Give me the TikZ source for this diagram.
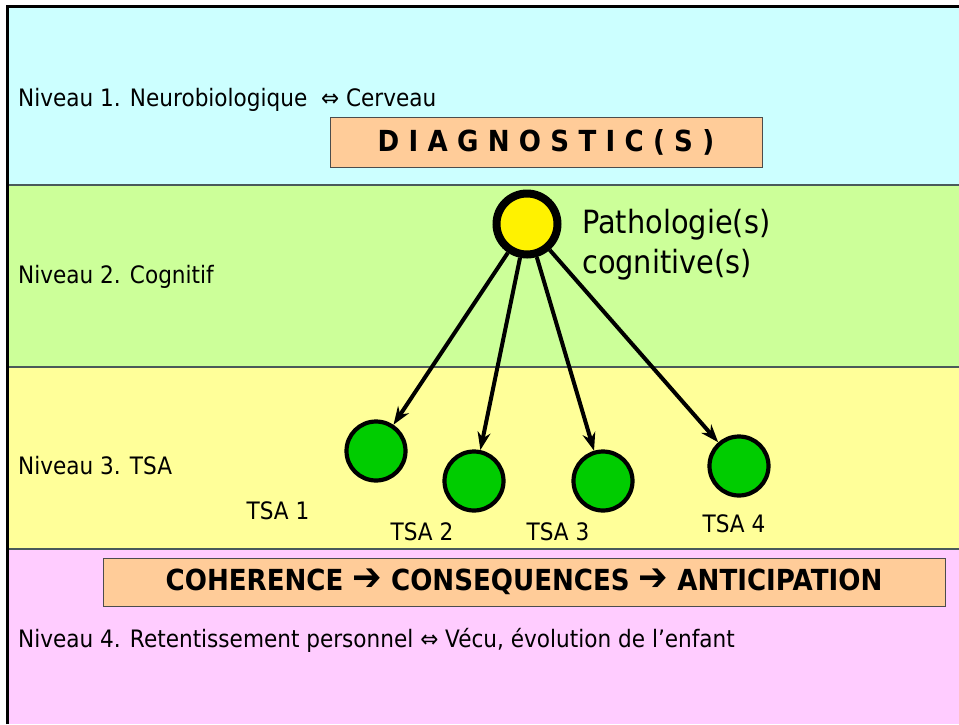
\documentclass[tikz,border=0pt]{standalone}
\usepackage{fontspec}
\setmainfont{DejaVu Sans}[FakeStretch=0.9]
\usetikzlibrary{arrows.meta}
\definecolor{bandA}{HTML}{CCFFFF}
\definecolor{bandB}{HTML}{CCFF99}
\definecolor{bandC}{HTML}{FFFF99}
\definecolor{bandD}{HTML}{FFCCFF}
\definecolor{boxfill}{HTML}{FFCC99}
\definecolor{greenc}{HTML}{00CC00}
\definecolor{sepline}{HTML}{4A5A5A}
\newcommand{\bigarrowglyph}{\raisebox{0.5pt}{\scalebox{1.35}{➔}}}
\tikzset{
  leveltxt/.style={anchor=west, inner sep=0pt, font=\fontsize{24}{28}\selectfont},
  bigbox/.style={draw=black!70, line width=0.8pt, fill=boxfill, inner sep=0pt},
  tsacirc/.style={circle, draw=black, line width=4.2pt, fill=greenc, minimum size=59pt, inner sep=0pt},
  tsalbl/.style={inner sep=0pt, font=\fontsize{24}{28}\selectfont},
  arr/.style={line width=4pt, -{Stealth[length=18pt,width=13pt]}},
}
\begin{document}
\begin{tikzpicture}[x=1pt,y=-1pt]
\useasboundingbox (0,0) rectangle (959,724);
\fill[white] (0,0) rectangle (959,724);
% bands
\fill[bandA] (7,6) rectangle (959,185);
\fill[bandB] (7,185) rectangle (959,367);
\fill[bandC] (7,367) rectangle (959,549);
\fill[bandD] (7,549) rectangle (959,724);
\draw[sepline, line width=2pt] (7,185) -- (959,185);
\draw[sepline, line width=2pt] (7,367) -- (959,367);
\draw[sepline, line width=2pt] (7,549) -- (959,549);
% frame
\draw[black, line width=3pt] (7,724) -- (7,6) -- (959,6);
% level labels
\node[leveltxt] (l1) at (18,100) {Niveau 1. Neurobiologique \ ⇔ Cerveau};
\node[leveltxt] (l2) at (18,277) {Niveau 2. Cognitif};
\node[leveltxt] (l3) at (18,466) {Niveau 3. TSA};
\node[leveltxt] (l4) at (18,640) {Niveau 4. Retentissement personnel ⇔ Vécu, évolution de l’enfant};
% diagnostic box
\node[bigbox, minimum width=432pt, minimum height=50pt, font=\fontsize{29}{33}\selectfont\bfseries\addfontfeatures{LetterSpace=32}] (diag) at (546,142) {DIAGNOSTIC(S)};
% coherence box
\node[bigbox, minimum width=842pt, minimum height=48pt, font=\fontsize{29}{34}\selectfont\bfseries] (coh) at (524,582) {COHERENCE \bigarrowglyph{} CONSEQUENCES \bigarrowglyph{} ANTICIPATION};
% pathologie
\node[circle, draw=black, line width=8pt, fill=yellow, minimum size=61pt, inner sep=0pt] (pat) at (527,224) {};
\node[anchor=west, inner sep=0pt, align=left, font=\fontsize{32}{40}\selectfont] (patl) at (582,245) {Pathologie(s)\\cognitive(s)};
% TSA circles
\node[tsacirc] (t1) at (376,451) {};
\node[tsacirc] (t2) at (474,481) {};
\node[tsacirc] (t3) at (603,481) {};
\node[tsacirc] (t4) at (739,466) {};
\node[tsalbl] (tl1) at (278,511) {TSA 1};
\node[tsalbl] (tl2) at (422,532) {TSA 2};
\node[tsalbl] (tl3) at (558,532) {TSA 3};
\node[tsalbl] (tl4) at (734,524) {TSA 4};
% arrows
\draw[arr] (pat) -- (t1);
\draw[arr] (pat) -- (t2);
\draw[arr] (pat) -- (t3);
\draw[arr] (pat) -- (t4);
\end{tikzpicture}
\end{document}
